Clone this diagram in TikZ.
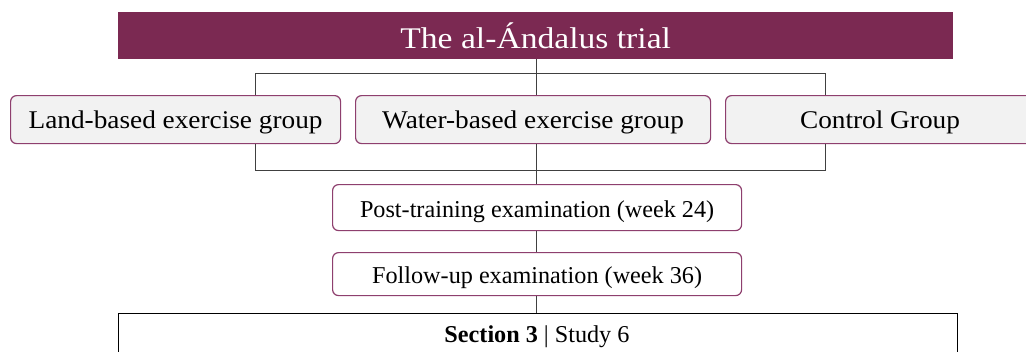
\documentclass[tikz,border=0pt]{standalone}
\usepackage{fontspec}
\setmainfont{Liberation Serif}
\newfontfamily\widefont[FakeStretch=1.07]{Liberation Serif}
\newfontfamily\titlefont[FakeStretch=1.12]{Liberation Serif}
\definecolor{plum}{HTML}{7B2952}
\definecolor{boxedge}{HTML}{8E3F6E}
\definecolor{boxfill}{HTML}{F2F2F2}
\begin{document}
\begin{tikzpicture}[x=1pt,y=-1pt,
  grp/.style={draw=boxedge,line width=1.2pt,fill=boxfill,rounded corners=6pt,inner sep=0pt,font=\widefont\fontsize{25.5}{28}\selectfont,text height=18pt,text depth=0pt},
  exam/.style={draw=boxedge,line width=1.2pt,fill=white,rounded corners=6pt,inner sep=0pt,font=\fontsize{24.2}{27}\selectfont,text height=19.5pt,text depth=0pt},
  conn/.style={draw=black!75,line width=0.7pt}]
\useasboundingbox (0,0) rectangle (1026,351);
\fill[white] (0,0) rectangle (1026,351);
\node[fill=plum,text=white,minimum width=835pt,minimum height=47pt,inner sep=0pt,anchor=north west,font=\titlefont\fontsize{30}{32}\selectfont] (title) at (118,12) {The al-Ándalus trial};
\node[grp,minimum width=330pt,minimum height=48pt,anchor=north west] (land) at (10,95) {Land-based exercise group};
\node[grp,minimum width=355pt,minimum height=48pt,anchor=north west] (water) at (355,95) {Water-based exercise group};
\node[grp,minimum width=310pt,minimum height=48pt,anchor=north west] (ctrl) at (725,95) {};
\node[font=\widefont\fontsize{25.5}{28}\selectfont,text height=18pt,text depth=0pt,inner sep=0pt] (ctrltext) at (880,119) {Control Group};
\node[exam,minimum width=409pt,minimum height=46pt,anchor=north west] (post) at (332,184) {Post-training examination (week 24)};
\node[exam,minimum width=409pt,minimum height=43pt,anchor=north west] (follow) at (332,252) {Follow-up examination (week 36)};
\node[draw=black,line width=1pt,fill=white,minimum width=839pt,minimum height=60pt,anchor=north west,inner sep=0pt] (sect) at (118,313) {};
\node[font=\fontsize{24.2}{27}\selectfont,text height=16pt,text depth=0pt,inner sep=0pt] (secttext) at (537,334) {\textbf{Section 3} | Study 6};
\coordinate (mid) at (536,0);
\coordinate (tl) at (255,73);
\coordinate (tr) at (825,73);
\coordinate (bl) at (255,170);
\coordinate (br) at (825,170);
\draw[conn] (title.south -| mid) -- (water.north -| mid);
\draw[conn] (land.north -| tl) -- (tl) -- (tr) -- (ctrl.north -| tr);
\draw[conn] (land.south -| bl) -- (bl) -- (br) -- (ctrl.south -| br);
\draw[conn] (water.south -| mid) -- (post.north -| mid);
\draw[conn] (post.south -| mid) -- (follow.north -| mid);
\draw[conn] (follow.south -| mid) -- (sect.north -| mid);
\end{tikzpicture}
\end{document}
